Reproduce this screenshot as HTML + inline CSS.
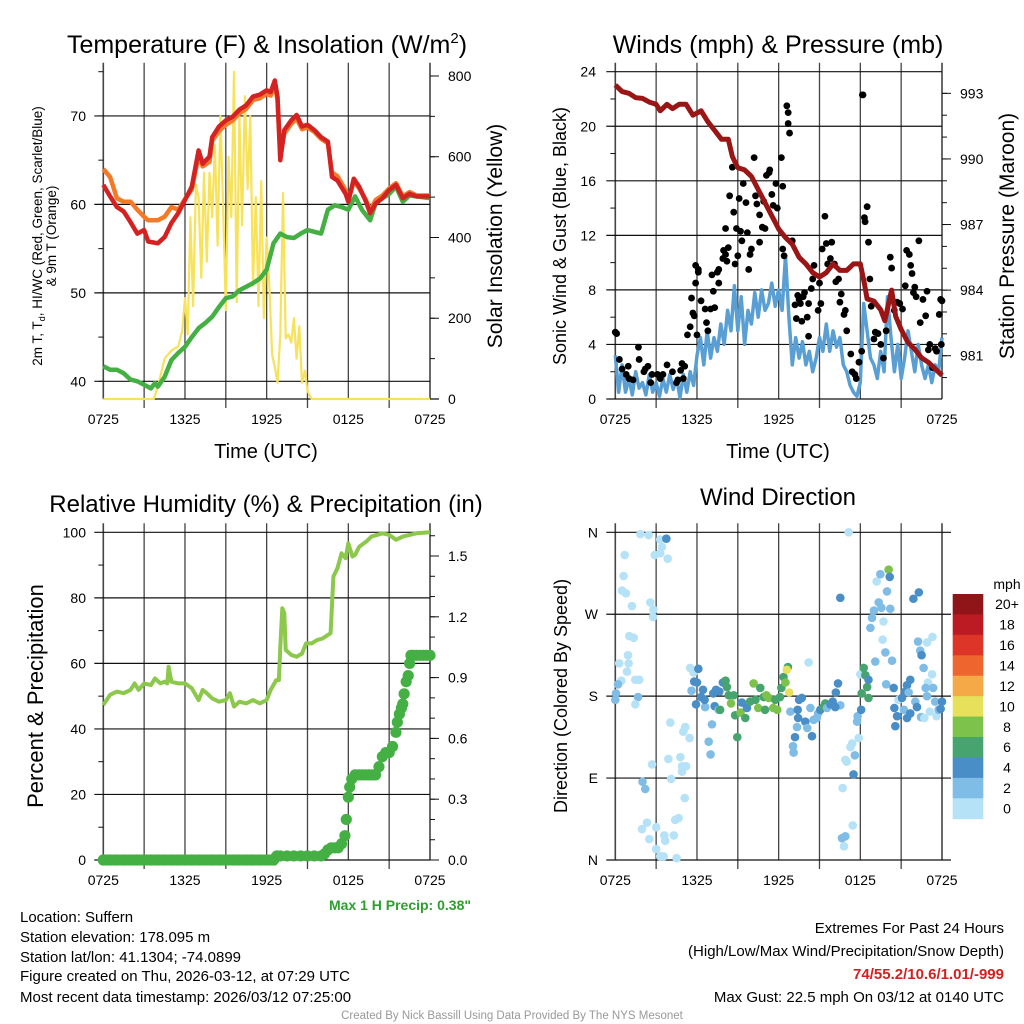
<!DOCTYPE html>
<html><head><meta charset="utf-8"><style>
html,body{margin:0;padding:0;background:#fff;}
svg{display:block;font-family:"Liberation Sans",Arial,sans-serif;}
</style></head><body>
<svg id="fig" width="1024" height="1024" viewBox="0 0 1024 1024">
<rect x="0" y="0" width="1024" height="1024" fill="#fff"/>
<text x="267" y="53" font-size="25" text-anchor="middle">Temperature (F) &amp; Insolation (W/m<tspan font-size="15" dy="-10">2</tspan><tspan dy="10">)</tspan></text>
<text x="778" y="53" font-size="25" text-anchor="middle">Winds (mph) &amp; Pressure (mb)</text>
<text x="266" y="512" font-size="24" text-anchor="middle">Relative Humidity (%) &amp; Precipitation (in)</text>
<text x="778" y="505" font-size="24" text-anchor="middle">Wind Direction</text>
<text x="266" y="458" font-size="20" text-anchor="middle">Time (UTC)</text>
<text x="778" y="458" font-size="20" text-anchor="middle">Time (UTC)</text>
<text transform="translate(42,236) rotate(-90)" font-size="13.5" text-anchor="middle">2m T, T<tspan font-size="9" dy="3">d</tspan><tspan dy="-3">, HI/WC (Red, Green, Scarlet/Blue)</tspan></text>
<text transform="translate(56,236) rotate(-90)" font-size="13.5" text-anchor="middle">&amp; 9m T (Orange)</text>
<text transform="translate(502,236) rotate(-90)" font-size="21" text-anchor="middle">Solar Insolation (Yellow)</text>
<text transform="translate(566,236) rotate(-90)" font-size="18" text-anchor="middle">Sonic Wind &amp; Gust (Blue, Black)</text>
<text transform="translate(1014,236) rotate(-90)" font-size="21" text-anchor="middle">Station Pressure (Maroon)</text>
<text transform="translate(43,696) rotate(-90)" font-size="22" text-anchor="middle">Percent &amp; Precipitation</text>
<text transform="translate(567,696) rotate(-90)" font-size="18" text-anchor="middle">Direction (Colored By Speed)</text>
<text x="471" y="910" font-size="14" font-weight="bold" fill="#2e9e2e" text-anchor="end">Max 1 H Precip: 0.38"</text>
<g font-size="15">
<text x="20" y="922">Location: Suffern</text>
<text x="20" y="942">Station elevation: 178.095 m</text>
<text x="20" y="962">Station lat/lon: 41.1304; -74.0899</text>
<text x="20" y="981">Figure created on Thu, 2026-03-12, at 07:29 UTC</text>
<text x="20" y="1002">Most recent data timestamp: 2026/03/12 07:25:00</text>
</g>
<g font-size="15" text-anchor="end">
<text x="1004" y="933">Extremes For Past 24 Hours</text>
<text x="1004" y="956">(High/Low/Max Wind/Precipitation/Snow Depth)</text>
<text x="1004" y="979" font-weight="bold" fill="#d42020">74/55.2/10.6/1.01/-999</text>
<text x="1004" y="1002">Max Gust: 22.5 mph On 03/12 at 0140 UTC</text>
</g>
<text x="512" y="1019" font-size="11.5" fill="#999" text-anchor="middle">Created By Nick Bassill Using Data Provided By The NYS Mesonet</text>
<g id="layer"></g>
</svg>
<script>
const timeTickLabels = ['0725','1325','1925','0125','0725'];
// ---------- panel 1: temperature ----------
const tempHours = [0,0.5,1,1.5,2,2.5,3,3.3,4,4.5,5,5.5,6,6.5,7,7.3,7.8,8,8.5,9,9.5,10,10.5,11,11.5,12,12.3,12.6,12.8,13,13.3,13.8,14.2,14.6,15,15.5,16,16.5,16.8,17.2,17.8,18,18.4,18.8,19.3,19.6,20,20.5,21,21.5,22,22.5,23,24];
const tempRed = [62.2,60.9,59.7,59.2,58,56.7,57.1,55.8,55.6,56.3,57.9,59,60.5,62,66.1,64.6,65.4,67.6,68.8,69.5,69.9,70.7,71.2,72.2,72.4,72.9,72.7,74.0,72.2,65,68.4,69.5,70.1,68.8,69,68.4,67.6,67.1,63.1,62.7,61.2,60.3,62.9,62,60.3,59,60.1,60.7,61.6,62.2,60.7,61.2,60.9,60.9];
const tempOrange = [64.0,63.1,60.7,60.3,60.3,59.4,58.6,58.2,58.2,58.6,59.7,59.4,60.6,61.7,65.5,64.3,64.8,67.2,68.3,69.0,69.5,70.3,70.8,71.8,72.0,72.5,72.3,73.5,71.8,65.4,68.0,69.1,69.7,68.5,68.7,68.2,67.4,66.9,63.6,63.2,61.6,60.5,62.6,61.8,60.5,59.3,60.5,61.0,61.8,62.4,60.9,61.4,61.0,61.0];
const dewHours = [0,0.5,1,1.5,2,2.5,3,3.5,3.8,4,4.5,5,5.5,6,6.5,7,7.5,8,8.5,9,9.5,10,10.5,11,11.5,12,12.5,13,13.5,14,14.5,15,15.5,16,16.5,17,17.5,18,18.5,19,19.6,20,20.5,21,21.5,22,22.5,23,24];
const dewGreen = [41.7,41.3,41.3,40.9,40.2,40,39.6,39.2,39.8,39.4,40.5,42.4,43.2,43.9,45,46,46.6,47.3,48.4,49.4,49.6,50.3,50.7,51.1,51.6,52.6,55.6,56.7,56.3,56.2,56.7,57.1,56.9,56.7,59.4,59.9,59.7,59.4,60.9,59.4,58.2,60.1,60.7,61.2,62,60.3,61,60.9,60.7];
const solarHours = [0,3.7,4,4.5,5,5.5,5.8,6,6.2,6.4,6.6,6.8,7,7.2,7.4,7.6,7.8,8,8.2,8.4,8.6,8.8,9,9.2,9.4,9.6,9.8,10,10.2,10.4,10.6,10.8,11,11.2,11.4,11.6,11.8,12,12.2,12.4,12.6,12.8,13,13.2,13.4,13.6,13.8,14,14.2,14.4,14.6,14.8,15,15.3,24];
const solarValues = [0,0,30,100,120,130,170,250,160,450,230,530,500,300,560,340,560,450,630,380,700,480,220,600,450,810,240,700,430,750,520,700,280,500,230,540,200,400,280,110,80,40,160,510,150,160,140,200,100,180,40,70,20,0,0];
const tempTicks = [40,50,60,70];
const solarTicks = [0,200,400,600,800];
// ---------- panel 2: winds ----------
const windHours = [0,0.25,0.5,0.75,1,1.25,1.5,1.75,2,2.25,2.5,2.75,3,3.25,3.5,3.75,4,4.25,4.5,4.75,5,5.25,5.5,5.75,6,6.25,6.5,6.75,7,7.25,7.5,7.75,8,8.25,8.5,8.75,9,9.25,9.5,9.75,10,10.25,10.5,10.75,11,11.25,11.5,11.75,12,12.25,12.5,12.75,13,13.25,13.5,13.75,14,14.25,14.5,14.75,15,15.25,15.5,15.75,16,16.25,16.5,16.75,17,17.25,17.5,17.75,18,18.25,18.5,18.75,19,19.25,19.5,19.75,20,20.25,20.5,20.75,21,21.25,21.5,21.75,22,22.25,22.5,22.75,23,23.25,23.5,23.75,24];
const windSpeed = [3.2,0.5,2.5,0.5,1.5,0.3,2,0.8,1.2,0.3,1.8,0.5,1.2,0.2,1.5,0.5,1.8,0.7,1.5,0.1,1.8,0.5,2.0,1.0,3.2,4.5,2.5,5.0,3.0,4.5,3.5,5.5,4.0,6.5,5,8.3,5.0,7.5,4.0,6.5,5.5,7.8,6.0,8.0,6.5,7.0,8.5,6.8,8.0,6.5,10.5,6.0,2.5,4.5,3,4.2,2.5,3.5,2.0,3.0,4.5,3.5,5.5,3.5,5.0,3.8,4.5,2.5,2.0,1.0,0.5,0.2,1.2,7.0,5.0,3.0,2.5,1.5,3.5,2.0,7.5,4.5,2.0,4.0,1.5,3.0,5.0,3.5,2.0,4.0,2.5,1.5,2.5,1.2,2.5,2.0,4.5];
const gustHours = [0,0.1,0.3,0.5,0.8,0.95,1.0,1.3,1.7,1.75,2.1,2.2,2.4,2.6,2.7,3.1,3.3,3.5,3.8,4.2,4.5,4.6,4.8,4.9,5.1,5.0,5.3,5.5,5.6,5.7,5.8,5.9,5.9,6.1,6.1,6.3,6.0,6.6,6.7,6.8,7.0,7.1,7.2,7.3,7.5,7.6,7.6,7.9,7.95,8.1,8.1,8.2,8.3,8.4,8.6,8.7,8.8,8.9,9.0,9.1,9.2,9.3,9.4,9.6,9.7,9.8,9.9,10.0,10.2,10.3,10.4,10.6,10.6,10.8,10.9,11.0,11.1,11.3,11.35,11.5,11.6,11.8,11.9,12.2,12.3,12.3,12.4,12.6,12.7,12.7,12.8,13.0,13.2,13.3,13.4,13.5,13.6,13.7,13.8,13.9,14.1,14.2,14.2,14.4,14.5,14.6,14.9,15.0,15.1,15.2,15.4,15.5,15.6,15.8,15.9,16.1,16.2,16.4,16.5,16.6,16.8,16.9,17.0,17.3,17.4,17.6,17.7,17.9,18.1,18.15,18.2,18.3,18.35,18.5,18.6,18.7,18.8,19.0,19.1,19.3,19.5,19.7,19.9,20.2,20.3,20.5,20.7,20.9,21.1,21.3,21.4,21.6,21.7,21.8,21.9,22.0,22.1,22.3,22.4,22.6,22.8,22.9,23.0,23.1,23.3,23.5,23.6,23.8,23.9,23.95,24.0];
const gustSpeed = [4.9,4.8,2.9,2.2,1.8,2.4,1.5,1.4,3.8,2.9,2.0,2.2,2.4,1.2,1.8,1.8,1.5,1.8,2.5,2.0,1.2,1.4,2.1,2.6,2.4,1.5,4.7,5.3,7.4,6.3,6.1,9.8,8.5,9.3,9.5,7.2,4.7,6.6,5.6,5.0,6.6,9.1,7.9,6.7,9.3,9.5,8.5,10.3,10.9,10.6,12.5,10.1,11.1,14.9,17.0,13.7,9.9,12.5,10.5,14.7,12.3,11.6,15.8,14.4,12.2,9.5,10.6,11.0,17.7,14.9,14.3,13.5,11.5,12.6,14.5,12.5,16.4,16.6,16.8,15.0,14.2,15.8,14.0,17.7,15.6,11.0,10.5,21.5,21.0,20.2,19.5,11.6,6.9,5.9,7.6,7.3,7.0,5.7,7.5,7.8,6.0,4.6,7.0,8.1,8.8,9.8,6.5,8.5,7.0,11.0,13.4,11.4,9.9,10.3,11.5,9.9,8.6,8.8,7.1,7.7,6.2,6.5,5.0,3.3,2.0,1.8,1.5,2.7,3.5,22.3,22.3,13.3,13.0,14.1,11.5,8.8,6.8,4.4,4.9,4.8,4.0,3.0,5.0,10.4,9.6,6.5,7.1,7.0,6.6,8.3,10.9,10.6,9.8,9.2,7.8,8.2,7.5,11.6,5.6,7.3,6.1,7.9,3.6,4.0,2.3,3.7,3.5,6.2,7.3,4.0,7.2];
const presHours = [0,0.5,1,1.5,2,2.5,3,3.3,3.8,4.2,4.7,5.2,5.7,6.3,6.8,7.3,7.8,8.3,8.6,9,9.5,10,10.5,11,11.5,12,12.5,13,13.5,14,14.5,15,15.5,16,16.5,17,17.5,18,18.3,18.5,19,19.5,19.8,20.3,20.6,21,21.5,22,22.5,23,23.5,24];
const presValues = [993.38,993.08,993,992.8,992.77,992.6,992.5,992.2,992.5,992.3,992.5,992.5,992,992.2,991.7,991.3,990.9,990.9,990.1,989.6,989.5,989.2,988.6,988,987.4,986.8,986.4,986.1,985.5,985.2,984.8,984.6,984.8,985.2,984.9,984.9,985.2,985.2,984.3,983.6,983.5,983.1,982.6,984,982.8,982.2,981.6,981.3,980.9,980.7,980.4,980.1];
const windTicks = [0,4,8,12,16,20,24];
const presTicks = [981,984,987,990,993];
// ---------- panel 3: humidity ----------
const rhHours = [0,0.5,1,1.5,2,2.3,2.6,3,3.5,3.8,4.2,4.5,4.7,4.8,5.0,5.5,6,6.5,7,7.3,7.6,8,8.5,9,9.3,9.6,10,10.5,11,11.5,12,12.3,12.7,12.9,13.0,13.15,13.3,13.4,13.8,14.2,14.6,14.9,15.3,15.7,16.1,16.5,16.7,16.9,17.2,17.5,17.8,18.0,18.3,18.5,18.8,19.3,19.7,20.5,21,21.5,22,23,24];
const rhValues = [47.3,50.4,51.4,50.9,51.9,53.9,51.9,53.9,53.4,55.4,53.9,54.4,53.9,59,54.4,53.9,53.9,52.4,48.8,51.9,50.9,49.3,48.3,48.8,50.9,46.8,48.3,47.8,48.8,47.8,48.8,51.9,54.9,54.9,65,76.8,75.3,64.1,62.6,62,63,66.1,66.1,67.1,67.6,68.7,69.2,86.5,89,93.6,92.1,96.6,92.6,93.1,95.6,97.1,98.7,99.7,99.2,97.7,98.7,99.7,100];
const precipHours = [0,0.5,1,1.5,2,2.5,3,3.5,4,4.5,5,5.5,6,6.5,7,7.5,8,8.5,9,9.5,10,10.5,11,11.5,12,12.5,12.75,13,13.5,14,14.5,15,15.5,16,16.25,16.5,16.75,17,17.25,17.5,17.75,17.85,18,18.1,18.25,18.5,18.75,19,19.25,19.5,19.75,20,20.25,20.5,20.75,21,21.25,21.5,21.6,21.75,21.9,22,22.1,22.25,22.4,22.5,22.6,22.75,23,23.25,23.5,23.75,24];
const precipValues = [0,0,0,0,0,0,0,0,0,0,0,0,0,0,0,0,0,0,0,0,0,0,0,0,0,0,0.02,0.02,0.02,0.02,0.02,0.02,0.02,0.02,0.03,0.05,0.06,0.06,0.06,0.08,0.12,0.2,0.31,0.36,0.4,0.42,0.42,0.42,0.42,0.42,0.42,0.42,0.46,0.51,0.53,0.53,0.56,0.63,0.68,0.72,0.75,0.77,0.82,0.88,0.91,0.97,1.01,1.01,1.01,1.01,1.01,1.01,1.01];
const rhTicks = [0,20,40,60,80,100];
const precipTicks = ['0.0','0.3','0.6','0.9','1.2','1.5'];
// ---------- panel 4: wind direction ----------
const dirHours = [1.84,2.45,0.69,0.61,0.49,0.78,1.22,2.57,2.8,2.77,1.03,1.35,0.93,0.98,0.86,0.29,0.44,1.47,1.76,0.2,0.05,0,1.67,1.47,2.0,2.2,2.7,1.96,2.33,2.5,3.0,3.0,3.3,3.55,3.6,3.67,4.3,4.4,4.65,4.5,4.1,3.9,4.78,4.9,4.9,5.2,5.1,5.0,5.14,5.46,4.04,3.3,3.75,3.43,3.3,2.9,3.85,5.5,5.75,6.1,5.8,6,5.6,6.44,5.93,6.3,6.6,6.56,7.1,6.86,7.0,7.2,7.4,7.64,7.3,7.6,7.7,7.9,8.1,8.2,8.33,8.5,8.7,8.8,8.96,9.2,9.3,9.55,9.67,9.9,10.16,10.3,10.5,10.65,10.9,11.0,11.1,11.27,11.6,11.75,11.9,12.1,12.2,12.36,12.5,12.68,12.6,12.78,12.86,13.5,13.7,13.4,13.43,13.35,13.2,13.05,13.1,13.96,14.2,14.33,14.1,14.45,14.57,14.8,14.9,15.06,15.3,15.43,15.55,15.8,15.97,16.2,16.36,16.53,16.16,16.53,17.14,16.7,16.9,17.0,17.27,17.4,17.6,17.5,17.44,16.65,16.9,16.8,17.88,17.76,17.8,18.06,18.0,18.25,18.37,18.1,18.5,18.6,18.6,18.86,18.74,19.0,19.1,19.2,19.35,19.55,19.47,19.7,19.64,19.84,19.96,20.08,20.16,20.2,20.33,20.45,19.9,20.5,20.7,20.57,20.8,21.06,21.3,21.43,21.67,21.55,21.2,21.43,21.67,21.9,22.3,22.04,22.16,22.24,22.4,22.5,22.65,22.9,23.3,23.27,22.97,22.8,23.35,22.9,22.46,22.7,23.1,23.5,23.6,23.75,23.9,24];
const dirDegrees = [358,357,335,312,296,293,279,283,275,267,246,244,225,216,207,216,197,198,198,193,183,176,179,171,86,78,105,34,41,23,36,12,4,4,27,21,27,44,46,2,89,111,113,103,97,103,68,141,146,134,151,352,353,344,337,335,331,211,206,210,196,195,186,187,171,179,168,176,149,130,116,183,187,185,169,165,165,195,197,190,181,172,181,159,135,162,173,156,167,174,194,176,167,189,179,165,181,178,167,176,165,179,189,201,195,212,209,184,163,176,178,165,156,146,135,125,118,152,217,167,145,136,154,156,161,165,168,172,167,171,174,184,194,170,168,288,360,79,110,108,124,128,115,94,38,24,26,15,134,152,158,165,204,211,203,183,190,178,198,266,255,274,218,306,283,277,314,262,242,228,295,319,311,276,219,189,193,167,158,147,176,178,185,192,198,184,165,156,161,287,294,174,168,240,230,225,211,239,245,204,195,189,189,180,157,156,163,174,158,165,166,174];
const dirSpeed = [1,1,1,1,1,1,1,1,1,1,1,1,1,1,1,1,1,1,1,3,2,2,3,1,3,3,1,1,1,1,1,1,1,1,1,1,1,1,1,1,1,1,1,1,1,1,1,1,1,1,1,1,5,1,1,1,1,1,1.5,5,5,5,3,5,5,5,3,5,3,3,3,5,5,5,5,3,7,5,7,7,7,9,7,7,7,9,5,7,5,7,9,7,9,7,7,7,9,9,9,7,9,7,7,7,9,7,11,11,3,5,5,5,5,3,5,3,3,5,1,3,3,5,2,3,3,5,7,7,3,5,5,5,5,2,5,5,1,1,1,1,1,1,2,5,1,2,2,1,1,2,2,5,1,7,7,7,7,7,5,2,3,3,3,1,3,3,3,1,1,3,3,9,5,3,3,5,2,5,5,5,1,5,5,5,5,3,3,5,5,5,5,3,5,3,3,5,3,1,1,1,1,3,3,3,3,1,1,3,1,3,5,5];
const speedBinLabels = ['0','2','4','6','8','10','12','14','16','18','20+'];
const speedBinColors = ['#b5e2f6','#7fbce6','#4a8ec7','#47a46f','#7cc24b','#e6e05a','#f6a947','#ef652e','#dd3528','#bd1b23','#8f1519'];
const dirTickLabels = ['N','E','S','W','N'];

const NS='http://www.w3.org/2000/svg';
const layer=document.getElementById('layer');
function mk(tag,attrs,parent){const e=document.createElementNS(NS,tag);for(const k in attrs)e.setAttribute(k,attrs[k]);(parent||layer).appendChild(e);return e;}
function lin(d0,d1,r0,r1){return v=>r0+(v-d0)/(d1-d0)*(r1-r0);}
function pathD(xs,ys,fx,fy){let s='';for(let i=0;i<xs.length;i++){s+=(i?'L':'M')+fx(xs[i]).toFixed(1)+','+fy(ys[i]).toFixed(1);}return s;}

function frame(x0,x1,y0,y1,name){
  const g=mk('g',{});
  
  
  for(let i=0;i<=8;i++){
    const x=x0+i*(x1-x0)/8;
    const l=mk('line',{x1:x,x2:x,y1:y0-9,y2:y1+(i%2?9:0),stroke:'#444','stroke-width':(i==0||i==8)?1.6:1.3},g);
    
    
  }
  for(let i=0;i<5;i++){
    const t=mk('text',{x:x0+i*(x1-x0)/4,y:y1+25,'font-size':14,'text-anchor':'middle'});
    t.textContent=timeTickLabels[i];
    
    
  }
  return g;
}
function hline(g,x0,x1,y,ext){const l=mk('line',{x1:x0-ext,x2:x1,y1:y,y2:y,stroke:'#111','stroke-width':1.2},g);
  
  }
function tick(g,x,y,len){const l=mk('line',{x1:x,x2:x+len,y1:y,y2:y,stroke:'#111','stroke-width':1},g);
  
  }
function label(x,y,txt,anchor){const t=mk('text',{x:x,y:y+5,'font-size':14,'text-anchor':anchor});t.textContent=txt;
  
  }

(function(){
  const x0=103.3,x1=430,y0=71.7,y1=399;
  const fx=lin(0,24,x0,x1), fy=lin(38,75,y1,y0), fs=lin(0,810.6,y1,y0);
  const g=frame(x0,x1,y0,y1,'temperature');
  tempTicks.forEach(v=>{hline(g,x0,x1,fy(v),9);label(86,fy(v),String(v),'end');});
  for(let v=40;v<=75;v+=5){tick(g,x0-5,fy(v),5);}
  hline(g,x0,x1+9,y1,0);
  solarTicks.forEach(v=>{tick(g,x1,fs(v),9);label(448,fs(v),String(v),'start');});
  for(let v=100;v<=800;v+=100){tick(g,x1,fs(v),5);}
  const ys=mk('path',{d:pathD(solarHours,solarValues,fx,fs),fill:'none',stroke:'#f7e25a','stroke-width':2.2,'stroke-linejoin':'round'});
  
  
  const gr=mk('path',{d:pathD(dewHours,dewGreen,fx,fy),fill:'none',stroke:'#44b044','stroke-width':4.5,'stroke-linejoin':'round'});
  
  
  const or=mk('path',{d:pathD(tempHours,tempOrange,fx,fy),fill:'none',stroke:'#f47a28','stroke-width':4.5,'stroke-linejoin':'round'});
  
  
  const rd=mk('path',{d:pathD(tempHours,tempRed,fx,fy),fill:'none',stroke:'#d42222','stroke-width':4.5,'stroke-linejoin':'round'});
  
  
})();

(function(){
  const x0=615.3,x1=942,y0=71.7,y1=399;
  const fx=lin(0,24,x0,x1), fy=lin(0,24,y1,y0), fp=lin(979.02,993.99,y1,y0);
  const g=frame(x0,x1,y0,y1,'winds');
  windTicks.forEach(v=>{hline(g,x0,x1,fy(v),9);label(596,fy(v),String(v),'end');});
  for(let v=2;v<24;v+=4){tick(g,x0-5,fy(v),5);}
  presTicks.forEach(v=>{tick(g,x1,fp(v),9);label(960,fp(v),String(v),'start');});
  for(let v=980;v<=993;v++){tick(g,x1,fp(v),5);}
  const bl=mk('path',{d:pathD(windHours,windSpeed,fx,fy),fill:'none',stroke:'#5a9fd4','stroke-width':3.5,'stroke-linejoin':'round'});
  
  
  for(let i=0;i<gustHours.length;i++){
    const c=mk('circle',{cx:fx(gustHours[i]),cy:fy(gustSpeed[i]),r:3.4,fill:'#000'});
    
    
  }
  const pr=mk('path',{d:pathD(presHours,presValues,fx,fp),fill:'none',stroke:'#9a1515','stroke-width':5,'stroke-linejoin':'round'});
  
  
})();

(function(){
  const x0=103.3,x1=430,y0=532.3,y1=860;
  const fx=lin(0,24,x0,x1), fy=lin(0,100,y1,y0), fq=lin(0,1.617,y1,y0);
  const g=frame(x0,x1,y0,y1,'humidity');
  rhTicks.forEach(v=>{hline(g,x0,x1,fy(v),9);label(86,fy(v),String(v),'end');});
  for(let v=10;v<100;v+=20){tick(g,x0-5,fy(v),5);}
  precipTicks.forEach(v=>{tick(g,x1,fq(parseFloat(v)),9);label(448,fq(parseFloat(v)),v,'start');});
  for(let v=0.1;v<1.62;v+=0.1){tick(g,x1,fq(v),5);}
  const rh=mk('path',{d:pathD(rhHours,rhValues,fx,fy),fill:'none',stroke:'#8cc84b','stroke-width':4,'stroke-linejoin':'round'});
  
  
  const bar=mk('path',{d:pathD(precipHours.slice(0,27),precipValues.slice(0,27),fx,fq),fill:'none',stroke:'#44b044','stroke-width':11,'stroke-linecap':'round'});
  
  
  for(let i=0;i<precipHours.length;i++){
    const c=mk('circle',{cx:fx(precipHours[i]),cy:fq(precipValues[i]),r:5.6,fill:'#44b044'});
    
    
  }
})();

(function(){
  const x0=615.3,x1=942,y0=532.3,y1=860;
  const fx=lin(0,24,x0,x1), fy=lin(0,360,y1,y0);
  const g=frame(x0,x1,y0,y1,'wind-direction');
  for(let i=0;i<5;i++){const v=i*90;hline(g,x0,x1+9,fy(v),9);label(598,fy(v),dirTickLabels[i],'end');}
  for(let i=0;i<dirHours.length;i++){
    const bin=Math.min(10,Math.floor(dirSpeed[i]/2));
    const c=mk('circle',{cx:fx(dirHours[i]),cy:fy(dirDegrees[i]),r:4.3,fill:speedBinColors[bin]});
    
    
  }
  const cb=mk('g',{});
  
  
  const bx=952.7,bw=30.6,top=594,bh=(818.7-594)/11;
  const mt=mk('text',{x:1007,y:589,'font-size':14,'text-anchor':'middle'},cb);
  mt.textContent='mph';
  
  
  for(let k=0;k<11;k++){
    const j=10-k;
    const r=mk('rect',{x:bx,y:top+k*bh,width:bw,height:bh+0.5,fill:speedBinColors[j]},cb);
    
    
    const t=mk('text',{x:1007,y:top+k*bh+bh/2+5,'font-size':14,'text-anchor':'middle'},cb);
    t.textContent=speedBinLabels[j];
    
    
  }
})();
</script>
</body></html>
